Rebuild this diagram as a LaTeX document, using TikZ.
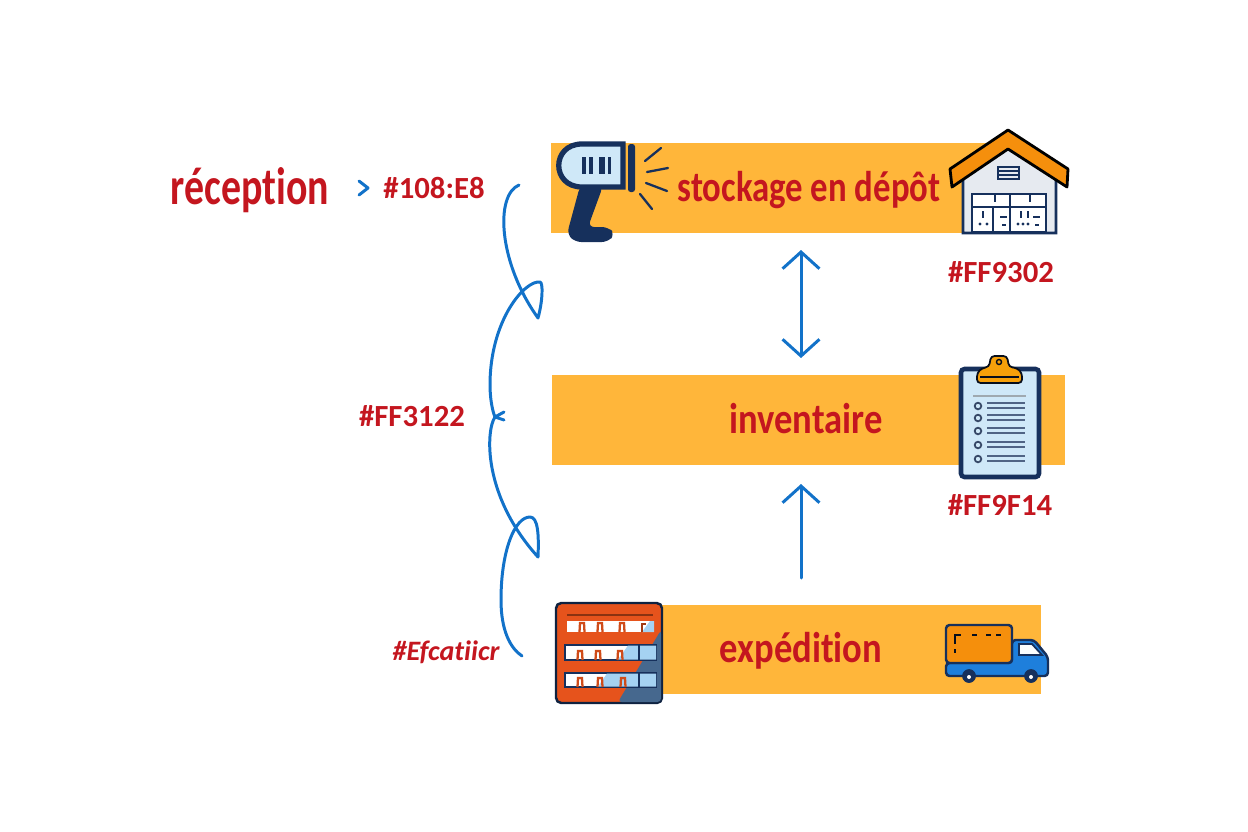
\documentclass[tikz,border=0pt]{standalone}
\usepackage{xcolor}
\usepackage{fontspec}
\usetikzlibrary{arrows.meta}
\setmainfont[Ligatures=NoCommon]{Carlito}
\definecolor{bandfill}{HTML}{FFB63A}
\definecolor{labelred}{HTML}{C4161F}
\definecolor{flowblue}{HTML}{1272C9}
\definecolor{iconnavy}{HTML}{16305C}
\definecolor{iconsky}{HTML}{CFE8F8}
\definecolor{roofor}{HTML}{F58F0C}
\definecolor{rackor}{HTML}{E6531C}
\definecolor{rackblue}{HTML}{46688E}
\definecolor{racksky}{HTML}{A5D2F2}
\definecolor{truckblue}{HTML}{1E7FDC}
\definecolor{wallgrey}{HTML}{E6EAF0}
\tikzset{
    band/.style={rectangle, fill=bandfill, minimum height=1.8cm, inner sep=0pt},
    title/.style={text=labelred, font=\fontsize{24.5}{26}\selectfont\bfseries, xscale=0.85},
    hexcode/.style={text=labelred, font=\fontsize{17.5}{20}\selectfont\bfseries},
    flow/.style={draw=flowblue, line width=1.7pt, line cap=round, line join=round},
    flowtip/.style={flow, >={Straight Barb[length=9.5pt, width=21pt, line width=1.7pt]}},
    iconline/.style={draw=iconnavy, line width=1.3pt, line cap=round},
    markline/.style={draw=iconnavy, line width=1.1pt},
}
\begin{document}
\begin{tikzpicture}[x=0.02cm, y=-0.02cm]
    \useasboundingbox (0,0) rectangle (1248,832);

    % Bands
    \node[band, minimum width=8.8cm] (stockband) at (771,188) {};
    \node[band, minimum width=10.26cm] (inventband) at (808.5,420) {};
    \node[band, minimum width=8.42cm] (expedband) at (831,649.5) {};

    % Titles
    \node[title, xscale=0.95] (stockage) at (809,190) {stockage en dépôt};
    \node[title] (inventaire) at (806,419) {inventaire};
    \node[title] (expedition) at (801,651) {expédition};
    \node[title, font=\fontsize{30}{32}\selectfont\bfseries, xscale=0.89] (reception) at (250,190) {réception};

    % Hex codes
    \node[hexcode] (codeA) at (434,188) {\#108:E8};
    \node[hexcode] (codeB) at (1001,272) {\#FF9302};
    \node[hexcode] (codeC) at (412,416) {\#FF3122};
    \node[hexcode] (codeD) at (1000,505) {\#FF9F14};
    \node[hexcode, font=\fontsize{16}{18}\selectfont\bfseries\itshape] (codeE) at (446,652) {\#Efcatiicr};

    % Straight arrows
    \coordinate (dblTop) at (801,250);
    \coordinate (dblBot) at (801,358);
    \coordinate (upTop) at (801,484);
    \coordinate (upBot) at (801,578);
    \draw[flowtip, <->] (dblTop) -- (dblBot);
    \draw[flowtip, ->] (upBot) -- (upTop);

    % Small chevron
    \coordinate (chevA) at (359,181);
    \coordinate (chevB) at (368,188);
    \coordinate (chevC) at (359,195);
    \draw[flow] (chevA) -- (chevB) -- (chevC);

    % Looping bracket
    \coordinate (loopStart) at (519,185);
    \coordinate (loopTipA) at (538,318);
    \coordinate (loopMid) at (495,417);
    \coordinate (loopTipB) at (538,557);
    \coordinate (loopEnd) at (522,656);
    \draw[flow] (loopStart) .. controls (495,195) and (498,262) .. (loopTipA)
        .. controls (543,300) and (543,282) .. (540,282)
        .. controls (525,280) and (490,320) .. (490,385)
        .. controls (490,397) and (492,410) .. (loopMid);
    \draw[flow] (loopMid) .. controls (486,430) and (482,495) .. (loopTipB)
        .. controls (539,535) and (538,517) .. (530,517)
        .. controls (515,517) and (501,550) .. (501,600)
        .. controls (501,630) and (510,648) .. (loopEnd);
    \draw[flow] (504,412) -- (loopMid) -- (504,420);

    % Scanner
    \fill[iconnavy, rounded corners=3.5pt] (580,186) -- (603,186) -- (588,227) -- (608,227) -- (615,234) -- (608,242) -- (575,242) -- (567,234) -- cycle;
    \filldraw[fill=iconsky, draw=iconnavy, line width=3pt] (623,144) -- (582,144) .. controls (551,144) and (551,187) .. (582,187) -- (623,187) -- cycle;
    \fill[iconnavy, rounded corners=1.5pt] (628,144) rectangle (635,192);
    \foreach \xa/\wa in {582/4, 589/4, 599/6, 608/3}
        \fill[iconnavy] (\xa,157) rectangle ++(\wa,17);
    \draw[iconline] (645,161) -- (661,148);
    \draw[iconline] (647,172) -- (668,168);
    \draw[iconline] (646,183) -- (667,191);
    \draw[iconline] (640,194) -- (652,209);

    % Warehouse
    \filldraw[fill=wallgrey, draw=iconnavy, line width=1.5pt] (963,233) -- (963,178) -- (1008,147) -- (1056,178) -- (1056,233) -- cycle;
    \filldraw[fill=roofor, draw=black, line width=1.6pt, line join=round] (1008,130) -- (1068,169) -- (1067,187) -- (1008,149) -- (952,187) -- (950,169) -- cycle;
    \filldraw[fill=wallgrey, draw=iconnavy, line width=1.1pt] (998,167) rectangle (1019,179);
    \foreach \ya in {171, 175}
        \draw[iconnavy, line width=0.7pt] (998,\ya) -- (1019,\ya);
    \filldraw[fill=white, draw=iconnavy, line width=1.5pt] (972,194) rectangle (1046,232);
    \draw[iconnavy, line width=1.4pt] (972,207) -- (1046,207) (1010,194) -- (1010,232) (993,207) -- (993,232);
    \foreach \xa in {995, 1030}
        \draw[markline] (\xa,195) -- (\xa,202);
    \foreach \xa in {983, 1021, 1028}
        \draw[markline] (\xa,211) -- (\xa,218);
    \foreach \xa in {980, 987, 1018, 1023, 1028}
        \fill[iconnavy] (\xa,224) circle (1.7);
    \foreach \xa in {1000, 1033} {
        \draw[markline] (\xa,217) -- ++(7,0);
        \draw[markline] (\xa+2,225) -- ++(4,0);
    }

    % Clipboard
    \filldraw[fill=iconsky, draw=iconnavy, line width=2.6pt, rounded corners=2pt] (961,369) rectangle (1039,477);
    \filldraw[fill=roofor!85!yellow, draw=black!70!iconnavy, line width=1pt, rounded corners=2pt] (977,383) -- (977,373) -- (982,368) -- (989,367) -- (991,356) -- (1007,356) -- (1009,367) -- (1017,368) -- (1022,373) -- (1022,383) -- cycle;
    \draw[black!70!iconnavy, line width=1.1pt] (980,377) -- (1019,377);
    \draw[black!70!iconnavy, line width=0.8pt] (999,362) circle (2.5);
    \draw[gray!60!iconsky, line width=1.1pt] (973,396) -- (1026,396);
    \foreach \ya in {406, 418, 431, 445, 459} {
        \draw[iconnavy!70!gray, line width=1pt] (978,\ya) circle (3.3);
        \draw[iconnavy!75, line width=1.1pt] (987,\ya-3) -- (1025,\ya-3);
        \draw[iconnavy!75, line width=1.1pt] (987,\ya+2) -- (1025,\ya+2);
    }

    % Rack
    \filldraw[fill=rackor, draw=iconnavy!70!black, line width=1.4pt, rounded corners=3pt] (556,603) rectangle (662,703);
    \fill[rackblue, rounded corners=2pt] (661,630) -- (661,702) -- (618,702) -- cycle;
    \draw[rackor!60!black, line width=1.2pt] (567,615) -- (653,615);
    \fill[white] (567,621) rectangle (654,632);
    \foreach \ya/\hb in {645/15, 673/14} {
        \filldraw[fill=white, draw=iconnavy, line width=0.9pt] (565,\ya) rectangle (656,\ya+\hb);
    }
    \fill[racksky] (654,621) -- (654,632) -- (642,632) -- (650,621) -- cycle;
    \fill[racksky] (656,645.5) -- (656,659.5) -- (618,659.5) -- (628,645.5) -- cycle;
    \fill[racksky] (656,673.5) -- (656,686.5) -- (598,686.5) -- (607,673.5) -- cycle;
    \draw[iconnavy, line width=0.8pt] (639,645) -- (639,660) (639,673) -- (639,687);
    \foreach \xa/\ya in {582/632, 600/632, 622/632, 580/660, 598/660, 620/660, 580/687, 600/687, 623/687}
        \draw[rackor!90!black, line width=1.3pt] (\xa-2.5,\ya) -- (\xa-2,\ya-9) -- (\xa+2,\ya-9) -- (\xa+2.5,\ya);
    \draw[rackor!70!black, line width=0.8pt] (642,632) -- (642,624) -- (646,624);

    % Truck
    \filldraw[fill=truckblue, draw=iconnavy, line width=1.4pt, rounded corners=2pt] (946,663) -- (1012,663) -- (1012,640) -- (1034,640) -- (1048,657) -- (1048,676) -- (946,676) -- cycle;
    \filldraw[fill=white!90!iconsky, draw=iconnavy, line width=1pt] (1019,644) -- (1032,644) -- (1042,655) -- (1019,655) -- cycle;
    \filldraw[fill=roofor, draw=iconnavy, line width=1.4pt, rounded corners=2pt] (946,625) rectangle (1012,663);
    \foreach \xa in {956, 972, 986, 996}
        \fill[black!70!iconnavy] (\xa,634) rectangle ++(5,1.5);
    \fill[black!70!iconnavy] (954,634) rectangle ++(2,10);
    \fill[black!70!iconnavy] (954,649) rectangle ++(2,4);
    \foreach \xa in {969, 1031} {
        \filldraw[fill=iconnavy, draw=iconnavy] (\xa,676) circle (6.5);
        \fill[white] (\xa,677) circle (2);
    }
\end{tikzpicture}
\end{document}
